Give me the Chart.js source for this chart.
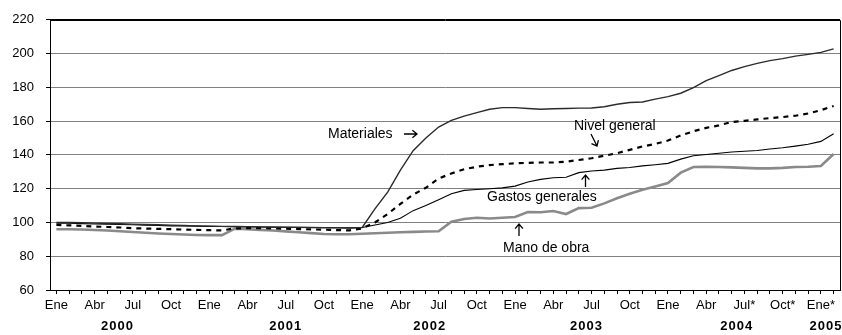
<!DOCTYPE html>
<html>
<head>
<meta charset="utf-8">
<script src="https://cdn.jsdelivr.net/npm/chart.js@4"></script>
<style>
  html, body { margin: 0; padding: 0; background: #fff; }
  #wrap { width: 842px; height: 335px; }
</style>
</head>
<body>
<div id="wrap"><canvas id="costChart" width="842" height="335"></canvas></div>
<script>
// Monthly categories, Ene 2000 .. Feb 2005 (asterisk = provisional)
const categories = [
    'Ene', 'Feb', 'Mar', 'Abr', 'May', 'Jun', 'Jul', 'Ago', 'Sep', 'Oct', 'Nov', 'Dic',
    'Ene', 'Feb', 'Mar', 'Abr', 'May', 'Jun', 'Jul', 'Ago', 'Sep', 'Oct', 'Nov', 'Dic',
    'Ene', 'Feb', 'Mar', 'Abr', 'May', 'Jun', 'Jul', 'Ago', 'Sep', 'Oct', 'Nov', 'Dic',
    'Ene', 'Feb', 'Mar', 'Abr', 'May', 'Jun', 'Jul', 'Ago', 'Sep', 'Oct', 'Nov', 'Dic',
    'Ene', 'Feb', 'Mar', 'Abr', 'May', 'Jun', 'Jul*', 'Ago*', 'Sep*', 'Oct*', 'Nov*', 'Dic*',
    'Ene*', 'Feb*'
];
const years = ['2000', '2001', '2002', '2003', '2004', '2005'];
const yTicks = [60, 80, 100, 120, 140, 160, 180, 200, 220];

const materiales = [
    100, 100, 99.8, 99.6, 99.4, 99.2, 99, 98.8, 98.6, 98.4, 98.2, 98,
    97.8, 97.7, 97.6, 97.5, 97.4, 97.3, 97.2, 97.1, 97, 96.9, 96.8, 96.7,
    97, 108, 118, 131, 142.5, 150, 156.5, 160.5, 163, 165, 167, 168,
    168, 167.5, 167, 167.3, 167.5, 167.7, 167.8, 168.5, 170, 171, 171.3, 173,
    174.5, 176.5, 179.8, 184, 187, 190, 192.3, 194.2, 195.8, 197, 198.5, 199.5,
    200.7, 202.8
];
const nivelGeneral = [
    98.5, 98.3, 98, 97.6, 97.3, 97, 96.6, 96.4, 96.2, 96, 95.8, 95.6,
    95.4, 95.3, 96.5, 96.6, 96.6, 96.5, 96.3, 96.1, 95.9, 95.7, 95.5, 95.3,
    96.5, 100, 105, 111, 116.5, 120.5, 126, 129, 131.5, 133, 134, 134.5,
    135, 135.3, 135.5, 135.5, 136, 137, 138, 139.5, 141, 143, 145, 146.5,
    148.5, 151.5, 154, 156, 157.5, 159.5, 160.2, 161, 161.8, 162.4, 163.2, 164.5,
    166.5, 169
];
const gastosGenerales = [
    99.5, 99.5, 99.3, 99.1, 99, 98.8, 98.6, 98.4, 98.2, 98, 97.9, 97.8,
    97.7, 97.6, 97.5, 97.4, 97.3, 97.2, 97.1, 97.1, 97, 97, 96.9, 96.8,
    97, 98.5, 100, 102.5, 107, 110, 113.5, 117, 119, 119.5, 120, 120.5,
    121.5, 124, 125.5, 126.5, 126.8, 129.5, 130.5, 131, 132, 132.5, 133.5, 134.2,
    135, 137.5, 139.5, 140.2, 141, 141.7, 142.2, 142.6, 143.5, 144.2, 145.2, 146.3,
    148, 152.5
];
const manoDeObra = [
    96, 96, 95.8, 95.5, 95.2, 94.8, 94.3, 93.9, 93.5, 93.2, 92.9, 92.6,
    92.5, 92.5, 96.3, 96, 95.6, 95.2, 94.7, 94.2, 93.7, 93.2, 93, 93,
    93.3, 93.6, 93.9, 94.2, 94.4, 94.6, 94.8, 100.5, 102, 102.8, 102.3, 102.8,
    103.2, 106.2, 106, 106.8, 105, 108.5, 108.7, 111.3, 114.3, 117, 119.3, 121.3,
    123.3, 129.5, 132.8, 132.9, 132.8, 132.6, 132.3, 132, 132, 132.3, 132.8, 133,
    133.4, 140.5
];

const FONT = "'Liberation Sans', Arial, sans-serif";

// where each year caption sits, in category units
const yearAt = [4.8, 18.0, 29.3, 41.6, 53.4, 60.4];

// Frame, year captions and series annotations
const extrasPlugin = {
    id: 'extras',
    afterDraw(chart) {
        const ctx = chart.ctx;
        const area = chart.chartArea;
        const x = chart.scales.x;

        ctx.save();
        // top and right frame
        ctx.strokeStyle = '#000';
        ctx.lineWidth = 1;
        ctx.beginPath();
        ctx.moveTo(area.left, Math.round(area.top) + 0.5);
        ctx.lineTo(Math.round(area.right) + 0.5, Math.round(area.top) + 0.5);
        ctx.lineTo(Math.round(area.right) + 0.5, area.bottom);
        ctx.stroke();

        // year captions
        ctx.fillStyle = '#000';
        ctx.font = 'bold 13px ' + FONT;
        ctx.textAlign = 'center';
        ctx.textBaseline = 'middle';
        ctx.letterSpacing = '1px';
        years.forEach((yr, i) => {
            ctx.fillText(yr, x.getPixelForValue(yearAt[i]), 326);
        });
        ctx.letterSpacing = '0px';

        // series names
        ctx.font = '14px ' + FONT;
        ctx.textAlign = 'left';
        ctx.fillText('Materiales', 328, 134);
        ctx.fillText('Nivel general', 574, 126);
        ctx.fillText('Gastos generales', 487, 197);
        ctx.fillText('Mano de obra', 503, 248);

        ctx.lineWidth = 1.3;
        arrow(ctx, 404, 134, 417, 134);
        arrow(ctx, 591, 134, 597, 146);
        arrow(ctx, 585.5, 187, 585.5, 175);
        arrow(ctx, 519, 236, 519, 224);
        ctx.restore();
    }
};

function arrow(ctx, x1, y1, x2, y2) {
    const ang = Math.atan2(y2 - y1, x2 - x1);
    const head = 6;
    ctx.beginPath();
    ctx.moveTo(x1, y1);
    ctx.lineTo(x2, y2);
    ctx.moveTo(x2 - head * Math.cos(ang - 0.7), y2 - head * Math.sin(ang - 0.7));
    ctx.lineTo(x2, y2);
    ctx.lineTo(x2 - head * Math.cos(ang + 0.7), y2 - head * Math.sin(ang + 0.7));
    ctx.stroke();
}

function lineSet(label, data, color, width, dash) {
    return {
        label: label,
        data: data,
        borderColor: color,
        borderWidth: width,
        borderDash: dash || [],
        pointRadius: 0,
        tension: 0,
        fill: false
    };
}

new Chart(document.getElementById('costChart'), {
    type: 'line',
    data: {
        labels: categories,
        datasets: [
            lineSet('Materiales', materiales, '#2b2b2b', 1.4),
            lineSet('Nivel general', nivelGeneral, '#000', 2.2, [5, 5]),
            lineSet('Gastos generales', gastosGenerales, '#000', 1.1),
            lineSet('Mano de obra', manoDeObra, '#8a8a8a', 2.6)
        ]
    },
    options: {
        responsive: false,
        animation: false,
        devicePixelRatio: 1,
        layout: { padding: { top: 13, right: 2, left: 0, bottom: 0 } },
        plugins: {
            legend: { display: false },
            tooltip: { enabled: false }
        },
        scales: {
            x: {
                offset: true,
                afterFit: function(scale) { scale.height = 45; },
                border: { color: '#000', width: 1 },
                grid: {
                    drawOnChartArea: false,
                    drawTicks: true,
                    tickLength: 4,
                    color: '#000'
                },
                ticks: {
                    autoSkip: false,
                    maxRotation: 0,
                    minRotation: 0,
                    padding: 4,
                    color: '#000',
                    font: { family: FONT, size: 13 },
                    callback: function(value, index) {
                        return index % 3 === 0 ? categories[index] : '';
                    }
                }
            },
            y: {
                min: 60,
                max: 220,
                afterFit: function(scale) { scale.width = 50; },
                afterBuildTicks: function(scale) {
                    scale.ticks = yTicks.map(v => ({ value: v }));
                },
                border: { color: '#000', width: 1 },
                grid: {
                    color: ctx => ctx.tick && ctx.tick.value === 220 ? '#000' : '#808080',
                    tickColor: '#000',
                    tickLength: 4
                },
                ticks: {
                    padding: 12,
                    color: '#000',
                    font: { family: FONT, size: 13 }
                }
            }
        }
    },
    plugins: [extrasPlugin]
});
</script>
</body>
</html>
